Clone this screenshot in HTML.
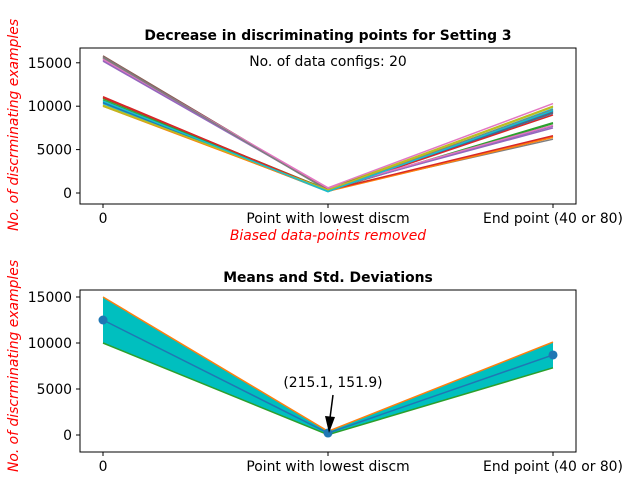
<!DOCTYPE html>
<html><head><meta charset="utf-8"><style>
body{margin:0;background:#fff;}
svg text{font-family:"DejaVu Sans","Liberation Sans",sans-serif;}
</style></head><body>
<svg id="chart" width="640" height="480" xmlns="http://www.w3.org/2000/svg">
<rect width="640" height="480" fill="#fff"/>
<g id="topPlot"></g>
<g id="botPlot"></g>
</svg>
<script>
const categories=["0","Point with lowest discm","End point (40 or 80)"];
const colors=["#1f77b4","#ff7f0e","#2ca02c","#d62728","#9467bd","#8c564b","#e377c2","#7f7f7f","#bcbd22","#17becf"];
const startVals=[10500,10000,10700,11100,15300,15800,15400,15700,10000,10300,10400,10100,10900,11000,15200,15600,15500,15600,10100,10600];
const midVals=[200,250,300,220,500,400,600,350,450,150,250,200,350,300,400,450,550,300,350,180];
const endVals=[9200,6500,8000,9000,7500,9300,10300,6200,10000,9700,9400,6400,8100,6600,7700,9500,7800,9600,9900,9500];
const topTicks=[0,5000,10000,15000];
const botTicks=[0,5000,10000,15000];
const meanVals=[12500,215.1,8700];
const upperVals=[15000,400,10100];
const lowerVals=[10000,30,7300];
const NS="http://www.w3.org/2000/svg";
const FS=13.9;
function mk(p,t,a){const e=document.createElementNS(NS,t);for(const k in a)e.setAttribute(k,a[k]);p.appendChild(e);return e;}
const xs=[103,328,553];
function axis(g,L,T,R,B,y0,yPer5k,ticks,title,nm){
  const y=v=>y0-v/5000*yPer5k;
  const fr=mk(g,"rect",{x:L,y:T,width:R-L,height:B-T,fill:"none",stroke:"#000","stroke-width":1});
  
  
  ticks.forEach(t=>{const yy=y(t);
    mk(g,"line",{x1:L-4,x2:L,y1:yy,y2:yy,stroke:"#000"});
    const tx=mk(g,"text",{x:L-8,y:yy+5,"text-anchor":"end","font-size":FS});tx.textContent=t;
    
    });
  categories.forEach((c,i)=>{mk(g,"line",{x1:xs[i],x2:xs[i],y1:B,y2:B+4,stroke:"#000"});
    const tx=mk(g,"text",{x:xs[i],y:B+19,"text-anchor":"middle","font-size":FS});tx.textContent=c;
    
    });
  const tt=mk(g,"text",{x:(L+R)/2,y:T-8,"text-anchor":"middle","font-size":FS,"font-weight":"bold"});tt.textContent=title;
  
  
  return y;
}
const gTop=document.getElementById("topPlot");
const yT=axis(gTop,80,48,576,204,193,43.4,topTicks,"Decrease in discriminating points for Setting 3","top-plot");
startVals.forEach((s,i)=>{
  const vals=[s,midVals[i],endVals[i]];
  const p=mk(gTop,"polyline",{points:vals.map((v,j)=>xs[j]+","+yT(v)).join(" "),fill:"none",stroke:colors[i%10],"stroke-width":1.5});
  
  
});
let t=mk(gTop,"text",{x:328,y:66,"text-anchor":"middle","font-size":FS});t.textContent="No. of data configs: 20";


t=mk(gTop,"text",{x:328,y:240,"text-anchor":"middle","font-size":FS,fill:"red","font-style":"italic"});t.textContent="Biased data-points removed";


t=mk(gTop,"text",{x:0,y:0,"text-anchor":"middle","font-size":FS,fill:"red","font-style":"italic",transform:"translate(18,125) rotate(-90)"});t.textContent="No. of discrminating examples";



const gBot=document.getElementById("botPlot");
const yB=axis(gBot,80,290,576,452,435,46,botTicks,"Means and Std. Deviations","bottom-plot");
const band=mk(gBot,"polygon",{points:upperVals.map((v,j)=>xs[j]+","+yB(v)).concat(lowerVals.map((v,j)=>xs[j]+","+yB(v)).reverse()).join(" "),fill:"#00bfbf"});


[[upperVals,"#ff7f0e","upper-line"],[lowerVals,"#2ca02c","lower-line"],[meanVals,"#1f77b4","mean-line"]].forEach(([arr,c,n])=>{
  const p=mk(gBot,"polyline",{points:arr.map((v,j)=>xs[j]+","+yB(v)).join(" "),fill:"none",stroke:c,"stroke-width":1.5});
  
  
});
meanVals.forEach((v,j)=>{const c=mk(gBot,"circle",{cx:xs[j],cy:yB(v),r:4.5,fill:"#1f77b4"});
  
  });
t=mk(gBot,"text",{x:333,y:387,"text-anchor":"middle","font-size":FS});t.textContent="(215.1, 151.9)";


mk(gBot,"line",{x1:333,y1:395,x2:330,y2:418,stroke:"#000","stroke-width":1.5});
mk(gBot,"polygon",{points:"325,416 335,417 329,433",fill:"#000"});
t=mk(gBot,"text",{x:0,y:0,"text-anchor":"middle","font-size":FS,fill:"red","font-style":"italic",transform:"translate(18,366) rotate(-90)"});t.textContent="No. of discrminating examples";


</script>
</body></html>
